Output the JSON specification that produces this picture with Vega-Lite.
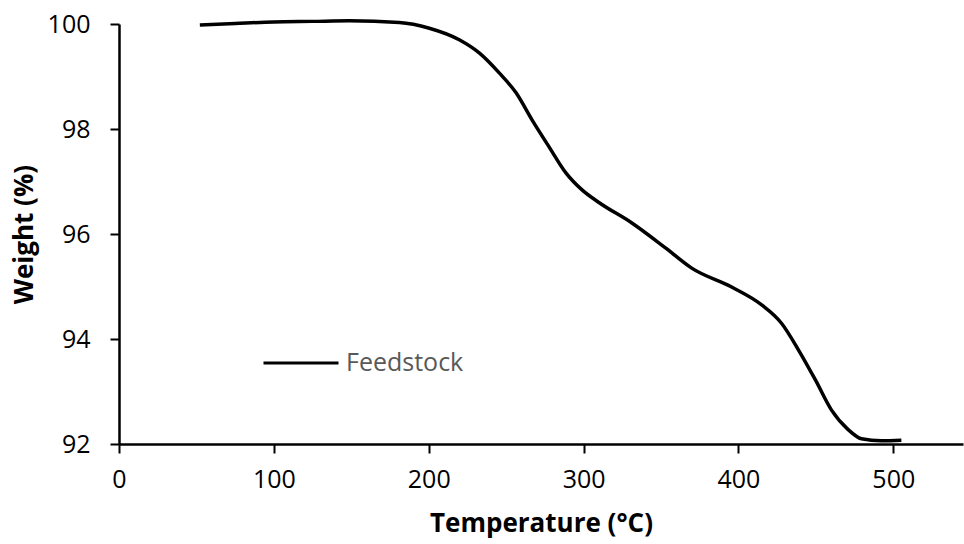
{
  "$schema": "https://vega.github.io/schema/vega-lite/v6.json",
  "width": 844,
  "height": 420,
  "autosize": "none",
  "padding": {"left": 119, "top": 24, "right": 1, "bottom": 100},
  "background": "white",
  "config": {
    "view": {"stroke": null},
    "font": "Open Sans"
  },
  "data": {
    "values": [
      {"T": 52.2, "W": 99.98, "series": "Feedstock"},
      {"T": 75, "W": 100.01, "series": "Feedstock"},
      {"T": 99.9, "W": 100.04, "series": "Feedstock"},
      {"T": 125, "W": 100.05, "series": "Feedstock"},
      {"T": 148.8, "W": 100.06, "series": "Feedstock"},
      {"T": 181, "W": 100.03, "series": "Feedstock"},
      {"T": 200.4, "W": 99.92, "series": "Feedstock"},
      {"T": 219.7, "W": 99.7, "series": "Feedstock"},
      {"T": 232.6, "W": 99.45, "series": "Feedstock"},
      {"T": 245.5, "W": 99.07, "series": "Feedstock"},
      {"T": 256.4, "W": 98.69, "series": "Feedstock"},
      {"T": 266.8, "W": 98.17, "series": "Feedstock"},
      {"T": 277.7, "W": 97.66, "series": "Feedstock"},
      {"T": 288.7, "W": 97.16, "series": "Feedstock"},
      {"T": 299, "W": 96.84, "series": "Feedstock"},
      {"T": 309.9, "W": 96.6, "series": "Feedstock"},
      {"T": 331.2, "W": 96.21, "series": "Feedstock"},
      {"T": 353.1, "W": 95.73, "series": "Feedstock"},
      {"T": 369.8, "W": 95.35, "series": "Feedstock"},
      {"T": 395.6, "W": 94.99, "series": "Feedstock"},
      {"T": 415, "W": 94.65, "series": "Feedstock"},
      {"T": 427.8, "W": 94.3, "series": "Feedstock"},
      {"T": 438.8, "W": 93.79, "series": "Feedstock"},
      {"T": 449.7, "W": 93.22, "series": "Feedstock"},
      {"T": 460, "W": 92.65, "series": "Feedstock"},
      {"T": 471, "W": 92.27, "series": "Feedstock"},
      {"T": 479.4, "W": 92.1, "series": "Feedstock"},
      {"T": 492.3, "W": 92.06, "series": "Feedstock"},
      {"T": 505.2, "W": 92.07, "series": "Feedstock"}
    ]
  },
  "mark": {"type": "line", "strokeWidth": 3.5, "interpolate": "monotone", "clip": false},
  "encoding": {
    "x": {
      "field": "T", "type": "quantitative",
      "scale": {"domain": [0, 545], "nice": false, "zero": false},
      "axis": {
        "title": "Temperature (°C)",
        "values": [0, 100, 200, 300, 400, 500],
        "grid": false,
        "labelFlush": false,
        "domainColor": "black", "domainWidth": 2.5,
        "tickColor": "black", "tickWidth": 2, "tickSize": 9,
        "labelFontSize": 25, "labelColor": "black", "labelPadding": 14,
        "labelFont": "Open Sans",
        "titleFontSize": 26, "titleFontWeight": "bold", "titleColor": "black",
        "titlePadding": 18, "titleFont": "Open Sans"
      }
    },
    "y": {
      "field": "W", "type": "quantitative",
      "scale": {"domain": [92, 100], "nice": false, "zero": false},
      "axis": {
        "title": "Weight (%)",
        "values": [92, 94, 96, 98, 100],
        "grid": false,
        "domainColor": "black", "domainWidth": 2.5,
        "tickColor": "black", "tickWidth": 2, "tickSize": 9,
        "labelFontSize": 25, "labelColor": "black", "labelPadding": 20,
        "labelFont": "Open Sans",
        "titleFontSize": 26, "titleFontWeight": "bold", "titleColor": "black",
        "titlePadding": 10, "titleFont": "Open Sans"
      }
    },
    "color": {
      "field": "series", "type": "nominal",
      "scale": {"range": ["black"]},
      "legend": {
        "title": null,
        "orient": "none",
        "legendX": 143,
        "legendY": 300,
        "symbolType": "stroke",
        "symbolSize": 5625,
        "symbolStrokeWidth": 3,
        "symbolStrokeColor": "black",
        "labelFontSize": 25,
        "labelColor": "#595959",
        "labelFont": "Open Sans",
        "labelOffset": 6
      }
    }
  }
}
